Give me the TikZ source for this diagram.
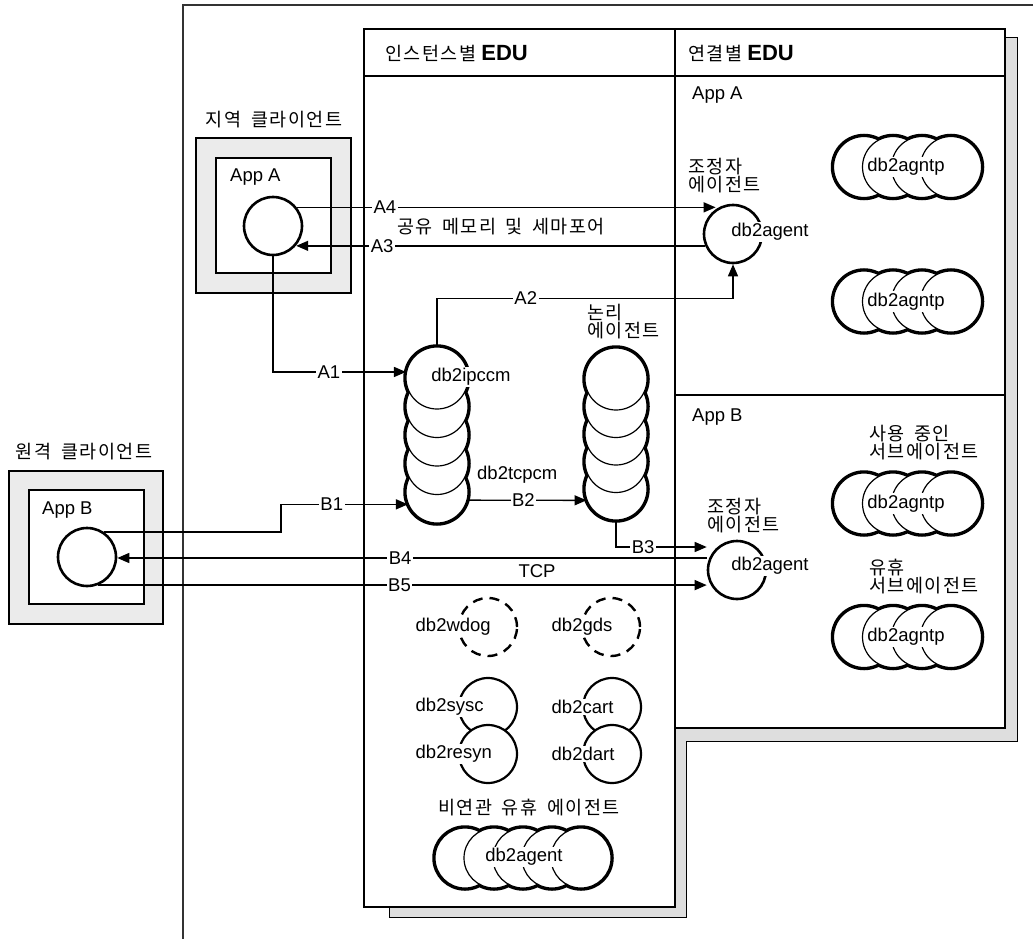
\documentclass[tikz,border=0pt]{standalone}
\usepackage{fontspec}
\setmainfont{Liberation Sans}
\newfontfamily\kr[WordSpace=1.7, LetterSpace=8]{Noto Sans CJK KR}
\newcommand{\hangul}{\kr\fontsize{18.5}{18}\selectfont}
\usetikzlibrary{arrows.meta, positioning}

\tikzset{
  boxline/.style={line width=2.6pt},
  thinline/.style={line width=1.3pt},
  halo/.style={line width=5.5pt},
  proc/.style={circle, draw, fill=white, line width=1.2pt, inner sep=0pt, minimum size=62pt},
  appproc/.style={circle, draw, fill=white, line width=2.6pt, inner sep=0pt, minimum size=58pt},
  conn/.style={line width=1.4pt, -{Triangle[length=12pt,width=10pt]}},
  lab/.style={fill=white, inner sep=1.5pt},
  pname/.style={fill=white, inner sep=1.5pt},
  krtext/.style={font=\hangul, inner sep=0pt},
  krtwo/.style={krtext, align=left, anchor=west},
  dashproc/.style={line width=2.4pt, dash pattern=on 10pt off 7pt},
}

\begin{document}
\begin{tikzpicture}[x=1pt, y=-1pt, font=\fontsize{18.5}{21}\selectfont]
    \useasboundingbox (0,0) rectangle (1035,939);

    \draw[thinline, black!80] (1033,5) -- (183,5) -- (183,939); %outer frame

    \filldraw[fill=black!13, draw=black, line width=1pt] (389,38) -- (1017,38) -- (1017,741) -- (686,741) -- (686,917) -- (389,917) -- cycle; %shadow
    \filldraw[boxline, fill=white] (364,29) rectangle (675,907); %instance
    \filldraw[boxline, fill=white] (675,29) rectangle (1005,728); %connection
    \draw[boxline] (364,76) -- (1005,76);
    \draw[boxline] (675,395) -- (1005,395);
    \node[anchor=west, inner sep=0pt] (hdrInst) at (385,53) {{\hangul 인스턴스별} {\fontsize{22}{22}\selectfont\bfseries EDU}};
    \node[anchor=west, inner sep=0pt] (hdrConn) at (688,53) {{\hangul 연결별} {\fontsize{22}{22}\selectfont\bfseries EDU}};
    \node[anchor=west, inner sep=0pt] (appAc) at (692,95) {App A};
    \node[anchor=west, inner sep=0pt] (appBc) at (692,417) {App B};

    % local client
    \filldraw[boxline, fill=black!8] (196,138) rectangle (351,293);
    \filldraw[thinline, fill=white] (216,158) rectangle (331,273);
    \node[krtext] (localLbl) at (274,120) {지역 클라이언트};
    \node[anchor=west, inner sep=0pt] (appAt) at (230,177) {App A};
    \node[appproc] (appA) at (273,226) {};

    % remote client
    \filldraw[boxline, fill=black!8] (9,471) rectangle (163,624);
    \filldraw[thinline, fill=white] (29,490) rectangle (144,604);
    \node[krtext] (remoteLbl) at (84,452) {원격 클라이언트};
    \node[anchor=west, inner sep=0pt] (appBt) at (42,510) {App B};
    \node[appproc] (appB) at (87,557) {};

    % db2ipccm stack
    \draw[halo] (437,378) circle (31pt) (437,406.5) circle (31pt) (437,435) circle (31pt) (437,463.5) circle (31pt) (437,492) circle (31pt);
    \node[proc] (ipc5) at (437,492) {};
    \node[proc] (ipc4) at (437,463.5) {};
    \node[proc] (ipc3) at (437,435) {};
    \node[proc] (ipc2) at (437,406.5) {};
    \node[proc] (ipc1) at (437,378) {};
    \node[pname] (ipcT) at (471,377) {db2ipccm};
    \node[anchor=west, inner sep=0pt] (tcpT) at (477,475) {db2tcpcm};

    % logical agents
    \draw[halo] (616,379) circle (31pt) (616,406.5) circle (31pt) (616,434) circle (31pt) (616,461.5) circle (31pt) (616,489) circle (31pt);
    \node[proc] (lag5) at (616,489) {};
    \node[proc] (lag4) at (616,461.5) {};
    \node[proc] (lag3) at (616,434) {};
    \node[proc] (lag2) at (616,406.5) {};
    \node[proc] (lag1) at (616,379) {};
    \node[krtwo] (lagLbl) at (587,321.5) {논리\\에이전트};

    % coordinator agents
    \node[krtwo] (cagALbl) at (688,175.5) {조정자\\에이전트};
    \node[appproc] (cagA) at (733,234) {};
    \node[pname] (cagAt) at (770,232) {db2agent};
    \node[krtwo] (cagBLbl) at (707,515.5) {조정자\\에이전트};
    \node[appproc] (cagB) at (737,570) {};
    \node[pname] (cagBt) at (770,566) {db2agent};

    % subagents, App A
    \draw[halo] (864,167) circle (30.5pt) (893,167) circle (30.5pt) (922,167) circle (30.5pt) (951,167) circle (30.5pt);
    \filldraw[fill=white, line width=1.2pt] (864,167) circle (30.5pt);
    \filldraw[fill=white, line width=1.2pt] (893,167) circle (30.5pt);
    \filldraw[fill=white, line width=1.2pt] (922,167) circle (30.5pt);
    \filldraw[fill=white, line width=1.2pt] (951,167) circle (30.5pt);
    \node[pname] (sagA1) at (906,167) {db2agntp};
    \draw[halo] (864,301.5) circle (30.5pt) (893,301.5) circle (30.5pt) (922,301.5) circle (30.5pt) (951,301.5) circle (30.5pt);
    \filldraw[fill=white, line width=1.2pt] (864,301.5) circle (30.5pt);
    \filldraw[fill=white, line width=1.2pt] (893,301.5) circle (30.5pt);
    \filldraw[fill=white, line width=1.2pt] (922,301.5) circle (30.5pt);
    \filldraw[fill=white, line width=1.2pt] (951,301.5) circle (30.5pt);
    \node[pname] (sagA2) at (906,301.5) {db2agntp};

    % subagents, App B
    \node[krtwo] (activeLbl) at (869,442.5) {사용 중인\\서브에이전트};
    \draw[halo] (864,503.5) circle (30.5pt) (893,503.5) circle (30.5pt) (922,503.5) circle (30.5pt) (951,503.5) circle (30.5pt);
    \filldraw[fill=white, line width=1.2pt] (864,503.5) circle (30.5pt);
    \filldraw[fill=white, line width=1.2pt] (893,503.5) circle (30.5pt);
    \filldraw[fill=white, line width=1.2pt] (922,503.5) circle (30.5pt);
    \filldraw[fill=white, line width=1.2pt] (951,503.5) circle (30.5pt);
    \node[pname] (sagB1) at (906,503.5) {db2agntp};
    \node[krtwo] (idleLbl) at (869,577) {유휴\\서브에이전트};
    \draw[halo] (864,637) circle (30.5pt) (893,637) circle (30.5pt) (922,637) circle (30.5pt) (951,637) circle (30.5pt);
    \filldraw[fill=white, line width=1.2pt] (864,637) circle (30.5pt);
    \filldraw[fill=white, line width=1.2pt] (893,637) circle (30.5pt);
    \filldraw[fill=white, line width=1.2pt] (922,637) circle (30.5pt);
    \filldraw[fill=white, line width=1.2pt] (951,637) circle (30.5pt);
    \node[pname] (sagB2) at (906,637) {db2agntp};

    % engine processes
    \draw[dashproc] (488,627) circle (29pt);
    \node[pname, anchor=west] (wdog) at (414,627) {db2wdog};
    \draw[dashproc] (611,627) circle (29pt);
    \node[pname, anchor=west] (gds) at (550,627) {db2gds};
    \filldraw[fill=white, line width=2.2pt] (488,707) circle (29pt);
    \filldraw[fill=white, line width=2.2pt] (488,754) circle (29pt);
    \node[pname, anchor=west] (sysc) at (414,707) {db2sysc};
    \node[pname, anchor=west] (resyn) at (414,754) {db2resyn};
    \filldraw[fill=white, line width=2.2pt] (612,707) circle (29pt);
    \filldraw[fill=white, line width=2.2pt] (612,754) circle (29pt);
    \node[pname, anchor=west] (cart) at (550,707) {db2cart};
    \node[pname, anchor=west] (dart) at (550,754) {db2dart};

    % idle agents
    \node[krtext] (poolLbl) at (529,808) {비연관 유휴 에이전트};
    \draw[halo] (465,858) circle (30pt) (494,858) circle (30pt) (523,858) circle (30pt) (552,858) circle (30pt) (581,858) circle (30pt);
    \filldraw[fill=white, line width=1.2pt] (465,858) circle (30pt);
    \filldraw[fill=white, line width=1.2pt] (494,858) circle (30pt);
    \filldraw[fill=white, line width=1.2pt] (523,858) circle (30pt);
    \filldraw[fill=white, line width=1.2pt] (552,858) circle (30pt);
    \filldraw[fill=white, line width=1.2pt] (581,858) circle (30pt);
    \node[pname] (poolT) at (524,857) {db2agent};

    % App A flows
    \draw[conn] (appA.south) |- node[lab, pos=0.71] {A1} (ipc1.169);
    \draw[conn] (ipc1.north) -- ++(0,-48) -| node[lab, pos=0.15] {A2} (cagA.south);
    \draw[conn] (cagA.203) -- node[lab, pos=0.79] {A3} (cagA.203 -| appA.-40);
    \draw[conn] (appA.38) -- node[lab, pos=0.21] {A4} (appA.38 -| cagA.125);
    \node[krtext, anchor=west] (shmLbl) at (397,227) {공유 메모리 및 세마포어};

    % App B flows
    \draw[conn] (appB.56) -- ++(177,0) |- node[lab, pos=0.7] {B1} (ipc5.203);
    \draw[conn] (ipc5.-15) -- node[lab, pos=0.47] {B2} (lag5.201);
    \draw[conn] (lag5.south) |- node[lab, pos=0.65] {B3} ([yshift=23pt]cagB.west);
    \draw[conn] ([yshift=12pt]cagB.west) -- node[lab, pos=0.52] {B4} ([yshift=12pt]cagB.west -| appB.east);
    \draw[conn] (appB.-68) -- node[lab, pos=0.495] {B5} (appB.-68 -| cagB.west);
    \node[inner sep=0pt] (tcpLbl) at (537,571) {TCP};
\end{tikzpicture}
\end{document}
